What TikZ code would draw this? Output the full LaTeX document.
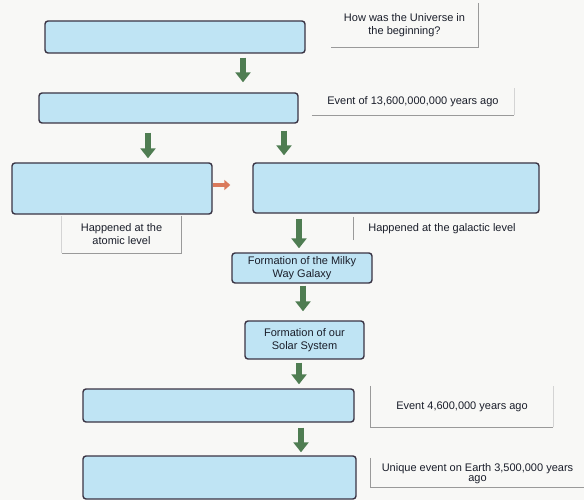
\documentclass[tikz,border=0pt]{standalone}
\usepackage{fontspec}
\setmainfont{Liberation Sans}
\usetikzlibrary{arrows.meta}
\definecolor{boxfill}{HTML}{BFE4F4}
\definecolor{boxedge}{HTML}{3A3444}
\definecolor{garrowc}{HTML}{4F7D52}
\definecolor{rarrowc}{HTML}{DA7A5C}
\definecolor{rulec}{HTML}{9A9A9A}
\definecolor{rulefc}{HTML}{D4D4D4}
\definecolor{textc}{HTML}{1A1E2A}
\definecolor{bgc}{HTML}{F8F8F6}
\begin{document}
\begin{tikzpicture}[x=1pt,y=-1pt,
  bluebox/.style={draw=boxedge, line width=1.4pt, fill=boxfill, rounded corners=3pt,
    inner sep=0pt, font=\fontsize{11}{13}\selectfont, text=textc, align=center},
  lab/.style={inner sep=0pt, font=\fontsize{11}{13}\selectfont, text=textc, align=center},
  rule/.style={draw=rulec, line width=0.9pt},
  rulefaint/.style={draw=rulefc, line width=0.9pt},
  garrow/.style={draw=garrowc, line width=5.5pt, -{Triangle[width=15pt,length=10pt]}},
  rarrow/.style={draw=rarrowc, line width=4.5pt, -{Triangle[width=10pt,length=6pt]}}
]
\fill[bgc] (0,0) rectangle (584,500);
\useasboundingbox (0,0) rectangle (584,500);

% blue boxes
\node[bluebox, minimum width=260pt, minimum height=32pt] (b1) at (175,37) {};
\node[bluebox, minimum width=259pt, minimum height=30pt] (b2) at (168.5,108) {};
\node[bluebox, minimum width=200pt, minimum height=51pt] (b3) at (112,188.5) {};
\node[bluebox, minimum width=286pt, minimum height=50pt] (b4) at (396,188) {};
\node[bluebox, minimum width=140pt, minimum height=30pt] (b5) at (302,268) {Formation of the Milky\\Way Galaxy};
\node[bluebox, minimum width=119pt, minimum height=38pt] (b6) at (304.5,340) {Formation of our\\Solar System};
\node[bluebox, minimum width=271pt, minimum height=33pt] (b7) at (218.5,405.5) {};
\node[bluebox, minimum width=273pt, minimum height=43pt] (b8) at (219.5,477.5) {};

% labels
\node[lab, minimum width=147pt, minimum height=44pt] (l1) at (404.5,25) {How was the Universe in\\the beginning?};
\node[lab, minimum width=202pt, minimum height=27pt] (l2) at (413,101.5) {Event of 13,600,000,000 years ago};
\node[lab, minimum width=119pt, minimum height=37pt] (l3) at (121.5,234.5) {Happened at the\\atomic level};
\node[lab, minimum width=176pt, minimum height=23pt] (l4) at (442,228.5) {Happened at the galactic level};
\node[lab, minimum width=182pt, minimum height=41pt] (l5) at (462,406.5) {Event 4,600,000 years ago};
\node[lab, minimum width=213pt, minimum height=29pt, font=\fontsize{11}{10.5}\selectfont, text depth=0pt] (l6) at (477.5,472.5) {Unique event on Earth 3,500,000 years\\ago};

% label rules
\draw[rule] (l1.north east) -- (l1.south east) -- (l1.south west);
\draw[rule] (l2.south west) -- (l2.south east);
\draw[rulefaint] (l2.south east) -- (l2.north east);
\draw[rule] (l3.north east) -- (l3.south east) -- (l3.south west);
\draw[rulefaint] (l3.south west) -- (l3.north west);
\draw[rule] (l4.north west) -- (l4.south west);
\draw[rule] (l5.north west) -- (l5.south west) -- (l5.south east);
\draw[rulefaint] (l5.south east) -- (l5.north east);
\draw[rule] (l6.north west) -- (l6.south west) -- (l6.south east);

% arrow columns
\coordinate (xa1) at (243,0);
\coordinate (xa2) at (148,0);
\coordinate (xa3) at (284,0);
\coordinate (xa4) at (299,0);
\coordinate (xa5) at (303,0);
\coordinate (xa6) at (299,0);
\coordinate (xa7) at (301,0);

\draw[garrow, shorten <=4pt, shorten >=10pt] (b1.south -| xa1) -- (b2.north -| xa1);
\draw[garrow, shorten <=9pt, shorten >=4pt] (b2.south -| xa2) -- (b3.north -| xa2);
\draw[garrow, shorten <=7pt, shorten >=7pt] (b2.south -| xa3) -- (b4.north -| xa3);
\draw[garrow, shorten <=5pt, shorten >=4pt] (b4.south -| xa4) -- (b5.north -| xa4);
\draw[garrow, shorten <=2pt, shorten >=9pt] (b5.south -| xa5) -- (b6.north -| xa5);
\draw[garrow, shorten <=3pt, shorten >=4pt] (b6.south -| xa6) -- (b7.north -| xa6);
\draw[garrow, shorten <=5pt, shorten >=3pt] (b7.south -| xa7) -- (b8.north -| xa7);

% red arrow
\coordinate (rs) at ([yshift=3.5pt]b3.east);
\draw[rarrow, shorten >=22pt] (rs) -- (rs -| b4.west);
\end{tikzpicture}
\end{document}
